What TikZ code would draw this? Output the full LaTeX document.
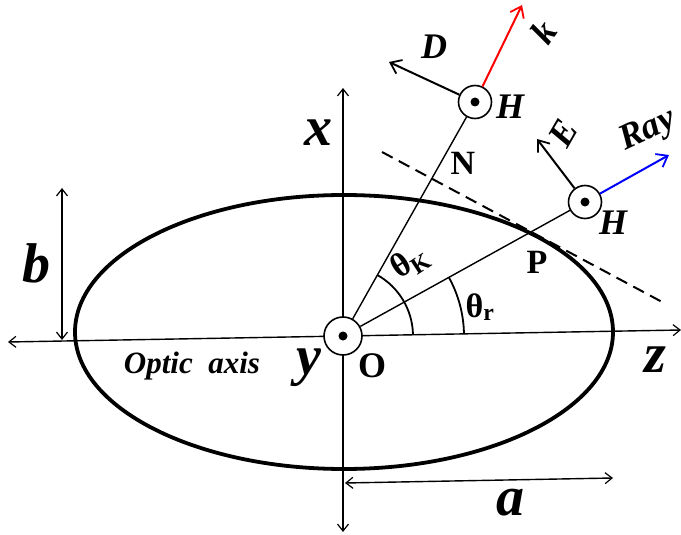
\documentclass[tikz,border=0pt]{standalone}
\usepackage{fontspec}
\setmainfont{Liberation Serif}
\usetikzlibrary{arrows.meta}
\newcommand{\fsz}[1]{\fontsize{#1}{#1}\selectfont}
\tikzset{
  barb/.tip={Straight Barb[length=7pt,width=11pt,line width=1.2pt]},
  axis/.style={line width=1.4pt, barb-barb},
  vec/.style={line width=2pt, -{Straight Barb[length=10pt,width=15pt,line width=1.8pt]}},
  ring/.style={circle, draw, fill=white, line width=1.6pt, inner sep=0pt},
  dotc/.style={circle, fill=black, inner sep=0pt, minimum size=9pt},
  big/.style={font=\fsz{56}\bfseries\itshape, inner sep=0pt},
  mid/.style={font=\fsz{36}\bfseries\itshape, inner sep=0pt},
  upr/.style={font=\fsz{34}\bfseries, inner sep=0pt},
  thin/.style={line width=1.4pt}
}
\begin{document}
\begin{tikzpicture}[x=1pt,y=-1pt]
\useasboundingbox (0,0) rectangle (681,535);
% ellipse
\draw[line width=3.8pt] (344,332) ellipse [x radius=269, y radius=137];
% axes
\coordinate (zL) at (8,342);
\coordinate (zR) at (681,330);
\coordinate (xT) at (343,88);
\coordinate (xB) at (343,532);
\draw[axis] (zL) -- (zR);
\draw[axis] (xT) -- (xB);
% dimension arrows
\coordinate (bT) at (62,188);
\coordinate (bB) at (62,340);
\draw[axis] (bT) -- (bB);
\coordinate (aL) at (345,483);
\coordinate (aR) at (613,478);
\draw[axis] (aL) -- (aR);
% dashed tangent
\coordinate (tA) at (382,152);
\coordinate (tB) at (664,303);
\draw[line width=2pt, dash pattern=on 12pt off 7pt] (tA) -- (tB);
% circles
\node[ring, minimum size=38pt] (O) at (343,336) {};
\node[dotc] at (O.center) {};
\node[ring, minimum size=33pt] (H1) at (475,102) {};
\node[dotc] at (H1.center) {};
\node[ring, minimum size=33pt] (H2) at (585,202) {};
\node[dotc] at (H2.center) {};
% rays
\draw[thin] (O) -- (H1);
\draw[thin] (O) -- (H2);
% vectors
\coordinate (kTip) at (522,5);
\coordinate (DTip) at (389,62);
\coordinate (RTip) at (669,155);
\coordinate (ETip) at (537,139);
\draw[vec, red] (H1) -- (kTip);
\draw[vec] (H1) -- (DTip);
\draw[vec, blue] (H2) -- (RTip);
\draw[vec] (H2) -- (ETip);
% angle arcs
\draw[line width=1.8pt] ([shift={(1:70pt)}]O.center) arc[start angle=1, end angle=60.6, radius=70pt];
\draw[line width=1.8pt] ([shift={(1:121pt)}]O.center) arc[start angle=1, end angle=29, radius=121pt];
% labels
\node[big] (lx) at (318,133) {x};
\node[big] (ly) at (309,368) {y};
\node[big] (lz) at (655,360) {z};
\node[big] (lb) at (37,263) {b};
\node[big] (la) at (510,503) {a};
\node[upr, font=\fsz{36}\bfseries] (lO) at (372,366) {O};
\node[font=\fsz{31}\bfseries\itshape, inner sep=0pt] (lopt) at (192,366) {Optic\ \ axis};
\node[upr] (lN) at (463,163) {N};
\node[upr] (lP) at (537,262) {P};
\node[mid] (lD) at (434,47) {D};
\node[mid, rotate=55] (lk) at (543,32) {k};
\node[mid, rotate=60] (lE) at (563,133) {E};
\node[mid, rotate=25] (lR) at (648,131) {Ray};
\node[mid] (lH1) at (510,107) {H};
\node[mid] (lH2) at (613,223) {H};
\node[font=\fsz{34}\bfseries, inner sep=0pt, rotate=33] (ltk) at (410,262) {θ\textsubscript{K}};
\node[font=\fsz{34}\bfseries, inner sep=0pt] (ltr) at (480,307) {θ\textsubscript{r}};
\end{tikzpicture}
\end{document}
